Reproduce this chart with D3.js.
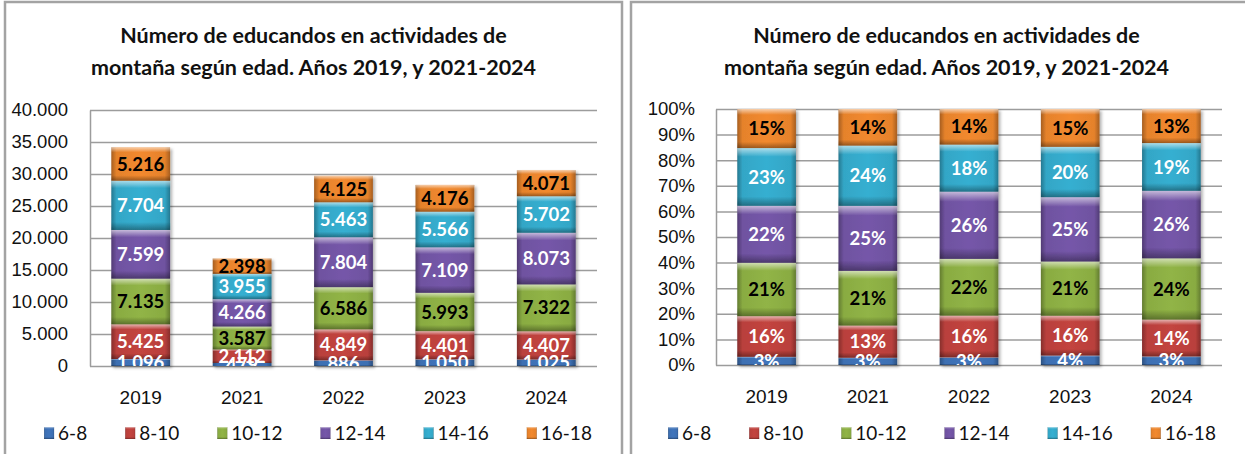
<!DOCTYPE html>
<html>
<head>
<meta charset="utf-8">
<script src="https://cdn.jsdelivr.net/npm/d3@7"></script>
<style>
  body { margin: 0; background: #fff; }
  svg { display: block; font-family: Lato, "Open Sans", sans-serif; }
  .grid line { stroke: #9c9c9c; stroke-width: 1.5; }
  .grid .domain { display: none; }
  .yaxis .domain { stroke: #9c9c9c; stroke-width: 1.5; }
  .yaxis text { font-size: 18.5px; fill: #111; }
  .xaxis text { font-size: 19px; fill: #111; }
  .xaxis .domain { display: none; }
</style>
</head>
<body>
<script>
var years = ["2019", "2021", "2022", "2023", "2024"];
var ageGroups = ["6-8", "8-10", "10-12", "12-14", "14-16", "16-18"];

var counts6to8   = [1096,  479,  886, 1050, 1025];
var counts8to10  = [5425, 2112, 4849, 4401, 4407];
var counts10to12 = [7135, 3587, 6586, 5993, 7322];
var counts12to14 = [7599, 4266, 7804, 7109, 8073];
var counts14to16 = [7704, 3955, 5463, 5566, 5702];
var counts16to18 = [5216, 2398, 4125, 4176, 4071];

var countTicks = [0, 5000, 10000, 15000, 20000, 25000, 30000, 35000, 40000];
var pctTicks = [0, 0.1, 0.2, 0.3, 0.4, 0.5, 0.6, 0.7, 0.8, 0.9, 1];

var titleLines = ["Número de educandos en actividades de", "montaña según edad. Años 2019, y 2021-2024"];

var seriesColors = ["#3d6fb2", "#b9403c", "#89ab42", "#6f52a0", "#33a6c6", "#e5822c"];
var labelColors  = ["#fff", "#fff", "#000", "#fff", "#fff", "#000"];

var width = 1245, height = 454;

var allCounts = [counts6to8, counts8to10, counts10to12, counts12to14, counts14to16, counts16to18];
var rows = years.map(function(y, i) {
  var r = { year: y };
  ageGroups.forEach(function(k, j) { r[k] = allCounts[j][i]; });
  return r;
});

var es = d3.formatLocale({ decimal: ",", thousands: ".", grouping: [3], currency: ["", "€"] });
var fmtCount = es.format(",.0f");
var fmtPct = d3.format(".0%");

var svg = d3.select("body").append("svg")
  .attr("width", width)
  .attr("height", height);

var defs = svg.append("defs");

// bevel look: darker side edges per colour, plus one shared shine overlay
seriesColors.forEach(function(c, i) {
  var g = defs.append("linearGradient").attr("id", "side" + i)
    .attr("x1", "0").attr("x2", "1").attr("y1", "0").attr("y2", "0");
  var dark = d3.color(c).darker(0.9);
  var light = d3.color(c).brighter(0.15);
  g.append("stop").attr("offset", "0%").attr("stop-color", dark);
  g.append("stop").attr("offset", "9%").attr("stop-color", c);
  g.append("stop").attr("offset", "50%").attr("stop-color", light);
  g.append("stop").attr("offset", "91%").attr("stop-color", c);
  g.append("stop").attr("offset", "100%").attr("stop-color", dark);
});
var shine = defs.append("linearGradient").attr("id", "shine")
  .attr("x1", "0").attr("x2", "0").attr("y1", "0").attr("y2", "1");
shine.append("stop").attr("offset", "0%").attr("stop-color", "#fff").attr("stop-opacity", 0.6);
shine.append("stop").attr("offset", "15%").attr("stop-color", "#fff").attr("stop-opacity", 0);
shine.append("stop").attr("offset", "84%").attr("stop-color", "#000").attr("stop-opacity", 0);
shine.append("stop").attr("offset", "100%").attr("stop-color", "#000").attr("stop-opacity", 0.35);

var shadow = defs.append("filter").attr("id", "shadow")
  .attr("x", "-20%").attr("y", "-20%").attr("width", "150%").attr("height", "150%");
shadow.append("feDropShadow").attr("dx", 2).attr("dy", 2)
  .attr("stdDeviation", 1.6).attr("flood-color", "#000").attr("flood-opacity", 0.3);

function drawPanel(cfg) {
  var p = svg.append("g");

  // panel frame
  p.append("rect")
    .attr("x", cfg.frame[0]).attr("y", 2)
    .attr("width", cfg.frame[1] - cfg.frame[0]).attr("height", height + 20)
    .attr("fill", "#fff").attr("stroke", "#a3a3a3").attr("stroke-width", 2.5);

  var cx = (cfg.frame[0] + cfg.frame[1]) / 2;
  p.append("text")
    .attr("text-anchor", "middle")
    .attr("font-size", 21.5).attr("font-weight", "bold").attr("fill", "#111")
    .selectAll("tspan").data(titleLines).enter().append("tspan")
      .attr("x", cx)
      .attr("y", function(d, i) { return 43 + i * 32; })
      .text(function(d) { return d; });

  var x = d3.scaleBand().domain(years)
    .range([cfg.x0, cfg.x1]).paddingInner(0.42).paddingOuter(0.21);
  var y = d3.scaleLinear().domain(cfg.domain).range([cfg.y1, cfg.y0]);

  p.append("g").attr("class", "grid")
    .attr("transform", "translate(" + cfg.x0 + ",0)")
    .call(d3.axisLeft(y).tickValues(cfg.ticks).tickSize(-(cfg.x1 - cfg.x0)).tickFormat(""));

  p.append("g").attr("class", "yaxis")
    .attr("transform", "translate(" + cfg.x0 + ",0)")
    .call(d3.axisLeft(y).tickValues(cfg.ticks).tickSize(0).tickSizeOuter(0)
      .tickPadding(cfg.tickPad).tickFormat(cfg.tickFormat));

  p.append("g").attr("class", "xaxis")
    .attr("transform", "translate(0," + cfg.y1 + ")")
    .call(d3.axisBottom(x).tickSize(0).tickPadding(25));

  var stack = d3.stack().keys(ageGroups);
  if (cfg.expand) stack.offset(d3.stackOffsetExpand);
  var series = stack(rows);

  var bars = p.append("g").attr("filter", "url(#shadow)");
  var layer = bars.selectAll("g.layer").data(series).enter().append("g").attr("class", "layer");
  layer.selectAll("rect.seg")
    .data(function(s) { return s.map(function(d) { return { s: s.index, d: d }; }); })
    .enter().append("rect").attr("class", "seg")
      .attr("x", function(e) { return x(e.d.data.year); })
      .attr("width", x.bandwidth())
      .attr("y", function(e) { return y(e.d[1]); })
      .attr("height", function(e) { return y(e.d[0]) - y(e.d[1]); })
      .attr("fill", function(e) { return "url(#side" + e.s + ")"; });
  layer.selectAll("rect.shine")
    .data(function(s) { return s; })
    .enter().append("rect").attr("class", "shine")
      .attr("x", function(d) { return x(d.data.year); })
      .attr("width", x.bandwidth())
      .attr("y", function(d) { return y(d[1]); })
      .attr("height", function(d) { return y(d[0]) - y(d[1]); })
      .attr("fill", "url(#shine)");

  var clipId = "clip" + cfg.x0;
  defs.append("clipPath").attr("id", clipId).append("rect")
    .attr("x", cfg.x0).attr("y", cfg.y0 - 5)
    .attr("width", cfg.x1 - cfg.x0).attr("height", cfg.y1 - cfg.y0 + 5);

  var labels = p.append("g").attr("clip-path", "url(#" + clipId + ")")
    .attr("font-size", 18.5).attr("font-weight", "bold").attr("text-anchor", "middle");
  series.forEach(function(s) {
    labels.selectAll(null).data(s).enter().append("text")
      .attr("x", function(d) { return x(d.data.year) + x.bandwidth() / 2; })
      .attr("y", function(d) { return (y(d[0]) + y(d[1])) / 2; })
      .attr("dy", "0.36em")
      .attr("fill", labelColors[s.index])
      .text(function(d) { return cfg.expand ? fmtPct(d[1] - d[0]) : fmtCount(d.data[s.key]); });
  });

  // legend
  var gap = 38;
  var lg = p.append("g").attr("font-size", 19);
  var items = lg.selectAll("g").data(ageGroups).enter().append("g");
  items.append("rect")
    .attr("y", -6).attr("width", 10).attr("height", 12)
    .attr("fill", function(d, i) { return "url(#side" + i + ")"; });
  items.append("rect")
    .attr("y", -6).attr("width", 10).attr("height", 12)
    .attr("fill", "url(#shine)");
  items.append("text").attr("x", 14).attr("dy", "0.36em").attr("fill", "#111")
    .text(function(d) { return d; });
  var pos = 0, offs = [];
  items.each(function() {
    offs.push(pos);
    pos += 14 + d3.select(this).select("text").node().getComputedTextLength() + gap;
  });
  var total = pos - gap;
  items.attr("transform", function(d, i) { return "translate(" + offs[i] + ",0)"; });
  lg.attr("transform", "translate(" + (cfg.legendCx - total / 2) + ",433)");
}

drawPanel({
  frame: [5, 622], x0: 90, x1: 597, y0: 110, y1: 366,
  domain: [0, 40000], ticks: countTicks, tickFormat: fmtCount, tickPad: 22,
  expand: false, legendCx: 318
});
drawPanel({
  frame: [631, 1262], x0: 716, x1: 1222, y0: 109, y1: 365,
  domain: [0, 1], ticks: pctTicks, tickFormat: fmtPct, tickPad: 21,
  expand: true, legendCx: 942
});
</script>
</body>
</html>
